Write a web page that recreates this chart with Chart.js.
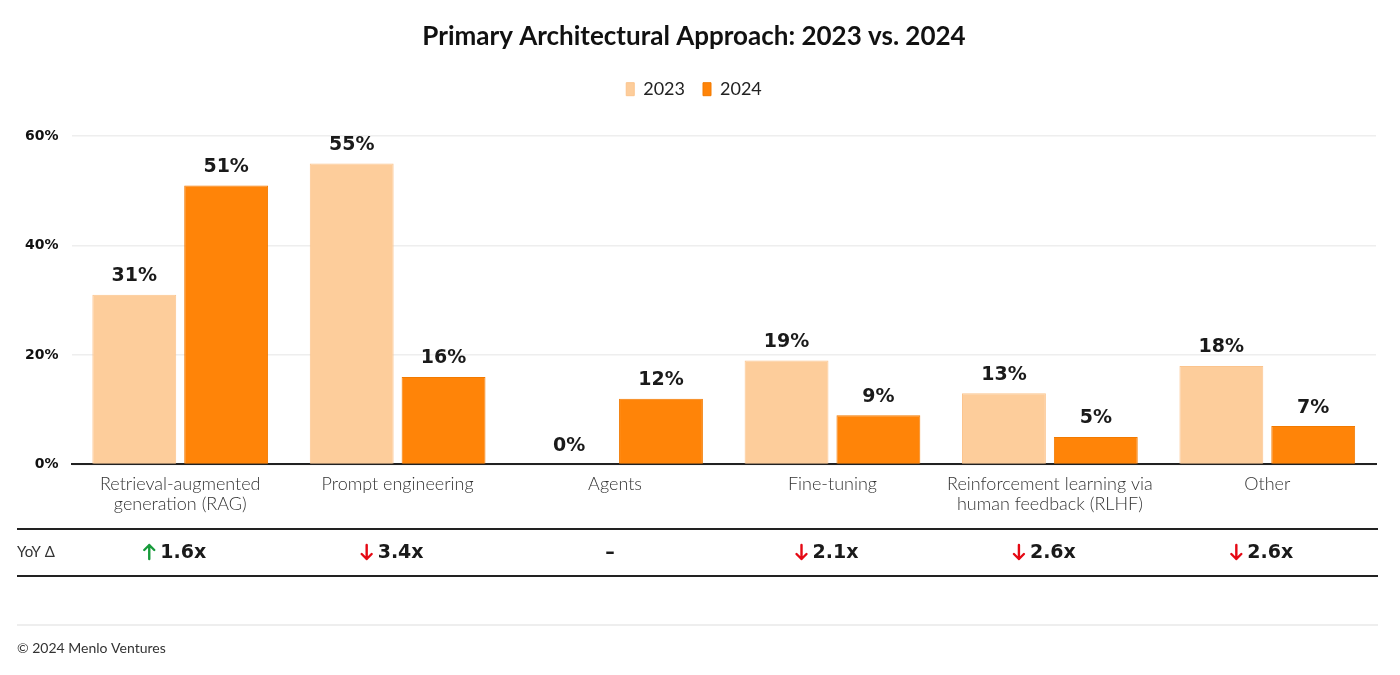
<!DOCTYPE html>
<html>
<head>
<meta charset="utf-8">
<script src="https://cdn.jsdelivr.net/npm/chart.js@4"></script>
<style>
  body { margin: 0; background: #fff; }
  #wrap { width: 1400px; height: 675px; }
</style>
</head>
<body>
<div id="wrap"><canvas id="approachChart" width="1400" height="675"></canvas></div>
<script>
const categories = [
    ['Retrieval-augmented', 'generation (RAG)'],
    ['Prompt engineering'],
    ['Agents'],
    ['Fine-tuning'],
    ['Reinforcement learning via', 'human feedback (RLHF)'],
    ['Other']
];
const values2023 = [31, 55, 0, 19, 13, 18];
const values2024 = [51, 16, 12, 9, 5, 7];
const yoyDirection = ['up', 'down', null, 'down', 'down', 'down'];
const yoyLabels = ['1.6x', '3.4x', '–', '2.1x', '2.6x', '2.6x'];
const yTicks = [0, 20, 40, 60];

const FONT = 'Lato, "Noto Sans", sans-serif';
const NUM_FONT = '"DejaVu Sans", sans-serif';
Chart.defaults.font.family = FONT;

// arrow icon used in the YoY row
function drawArrow(ctx, x, yMid, dir, color) {
    const h = 14;
    const top = yMid - h / 2, bot = yMid + h / 2;
    ctx.save();
    ctx.strokeStyle = color;
    ctx.lineWidth = 2.4;
    ctx.lineCap = 'round';
    ctx.lineJoin = 'round';
    ctx.beginPath();
    ctx.moveTo(x, top);
    ctx.lineTo(x, bot);
    if (dir === 'up') {
        ctx.moveTo(x - 5, top + 5);
        ctx.lineTo(x, top);
        ctx.lineTo(x + 5, top + 5);
    } else {
        ctx.moveTo(x - 5, bot - 5);
        ctx.lineTo(x, bot);
        ctx.lineTo(x + 5, bot - 5);
    }
    ctx.stroke();
    ctx.restore();
}

// extra space under the legend
const legendGap = {
    id: 'legendGap',
    beforeInit(chart) {
        const fit = chart.legend.fit;
        chart.legend.fit = function () {
            fit.bind(chart.legend)();
            this.height += 28;
        };
    }
};

// value labels over bars, YoY table and footer
const extras = {
    id: 'extras',
    afterDatasetsDraw(chart) {
        const ctx = chart.ctx;
        ctx.save();
        ctx.font = 'bold 19px ' + NUM_FONT;
        ctx.fillStyle = '#1a1a1a';
        ctx.textAlign = 'center';
        ctx.textBaseline = 'bottom';
        chart.data.datasets.forEach((ds, i) => {
            chart.getDatasetMeta(i).data.forEach((bar, j) => {
                ctx.fillText(ds.data[j] + '%', bar.x, bar.y - 9);
            });
        });
        ctx.restore();
    },
    afterDraw(chart) {
        const ctx = chart.ctx;
        const xScale = chart.scales.x;
        const left = 17, right = 1378;
        ctx.save();

        // table rules
        ctx.fillStyle = '#222';
        ctx.fillRect(left, 528, right - left, 2);
        ctx.fillRect(left, 575, right - left, 2);
        ctx.fillStyle = '#eeeeee';
        ctx.fillRect(left, 624, right - left, 2);

        const rowY = 552;
        ctx.textBaseline = 'middle';
        ctx.textAlign = 'left';
        ctx.fillStyle = '#333';
        ctx.font = '15px ' + FONT;
        ctx.fillText('YoY Δ', left, rowY);

        ctx.font = 'bold 19px ' + NUM_FONT;
        yoyLabels.forEach((txt, i) => {
            const cx = xScale.getPixelForValue(i) - 5;
            const tw = ctx.measureText(txt).width;
            const dir = yoyDirection[i];
            const aw = dir ? 16 : 0;
            const start = cx - (tw + aw) / 2;
            if (dir) drawArrow(ctx, start + 5, rowY, dir, dir === 'up' ? '#179b3b' : '#e50914');
            ctx.fillStyle = '#1a1a1a';
            ctx.fillText(txt, start + aw, rowY + 1);
        });

        // footer
        ctx.font = '14px ' + FONT;
        ctx.fillStyle = '#333';
        ctx.fillText('© 2024 Menlo Ventures', left, 648);
        ctx.restore();
    }
};

new Chart(document.getElementById('approachChart'), {
    type: 'bar',
    data: {
        labels: categories,
        datasets: [
            {
                label: '2023',
                data: values2023,
                backgroundColor: '#fdcd9b',
                borderColor: '#fbc48d',
                borderWidth: 1,
                categoryPercentage: 0.845,
                barPercentage: 0.913
            },
            {
                label: '2024',
                data: values2024,
                backgroundColor: '#ff8408',
                borderColor: '#f27a00',
                borderWidth: 1,
                categoryPercentage: 0.845,
                barPercentage: 0.913
            }
        ]
    },
    options: {
        responsive: false,
        animation: false,
        layout: { padding: { left: 12, right: 24, top: 0, bottom: 159 } },
        plugins: {
            title: {
                display: true,
                text: 'Primary Architectural Approach: 2023 vs. 2024',
                color: '#111',
                font: { size: 26, weight: 'bold' },
                padding: { top: 21, bottom: 10 }
            },
            legend: {
                display: true,
                position: 'top',
                labels: {
                    boxWidth: 8,
                    boxHeight: 13,
                    color: '#222',
                    font: { size: 18 },
                    padding: 18
                }
            },
            tooltip: { enabled: false }
        },
        scales: {
            x: {
                grid: { display: false },
                border: { color: '#222', width: 2 },
                ticks: {
                    color: '#333',
                    font: { size: 18, weight: 300, lineHeight: 1.1 },
                    padding: 2,
                    maxRotation: 0,
                    autoSkip: false
                }
            },
            y: {
                min: 0,
                max: 60,
                afterBuildTicks: axis => { axis.ticks = yTicks.map(v => ({ value: v })); },
                grid: { color: '#eeeeee', lineWidth: 1.5, drawTicks: false },
                border: { display: false },
                ticks: {
                    color: '#111',
                    font: { family: NUM_FONT, size: 14, weight: 'bold' },
                    padding: 13,
                    callback: v => v + '%'
                }
            }
        }
    },
    plugins: [legendGap, extras]
});
</script>
</body>
</html>
